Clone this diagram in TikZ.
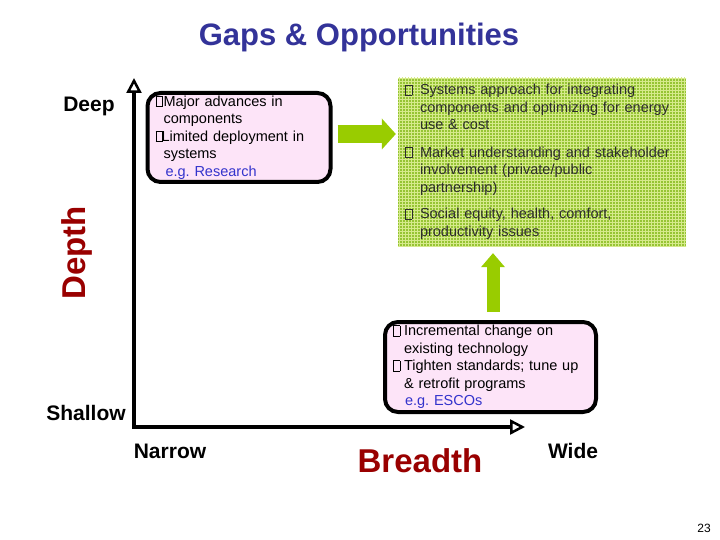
\documentclass[tikz,border=0pt]{standalone}
\usepackage{fontspec}
\setmainfont{Liberation Sans}
\usepackage{tikz}
\usetikzlibrary{arrows.meta,positioning,patterns,calc}
\definecolor{titleblue}{RGB}{51,51,153}
\definecolor{axisred}{RGB}{153,0,0}
\definecolor{boxpink}{RGB}{253,228,248}
\definecolor{egblue}{RGB}{51,51,204}
\definecolor{arrowgreen}{RGB}{153,204,0}
\definecolor{gapgreen}{RGB}{150,196,52}
\definecolor{gapgrid}{RGB}{214,234,140}
\definecolor{gaptext}{RGB}{45,45,45}
\newcommand{\sq}{{\fboxsep=0pt\fboxrule=0.6pt\fbox{\rule{0pt}{0.68em}\hspace{0.42em}}}}
\newcommand{\bl}[1]{\makebox[#1][l]{\sq}}
\newcommand{\fs}[2]{\fontsize{#1}{#2}\selectfont}

\begin{document}
\begin{tikzpicture}[
  x=1pt, y=-1pt,
  axis/.style={line width=4pt,
               {Triangle[open,length=15pt,width=15pt,line width=2.5pt]}-{Triangle[open,length=15pt,width=15pt,line width=2.5pt]}},
  lbl/.style={font=\fs{21}{24}\bfseries},
  axtitle/.style={font=\fs{33}{36}\bfseries, text=axisred},
  card/.style={draw=black, line width=4pt, rounded corners=13pt, fill=boxpink,
               align=left, inner xsep=8pt, inner ysep=0pt, font=\fs{14.5}{17.5}},
  gapbox/.style={fill=gapgreen, postaction={pattern=grid, pattern color=gapgrid},
                 align=left, inner xsep=7pt, inner ysep=0pt, text=gaptext, font=\fs{14.5}{17.5}},
  garrow/.style={draw=arrowgreen, line width=18pt, -{Triangle[length=14pt,width=31pt,line width=0pt]}},
  garrowv/.style={draw=arrowgreen, line width=13pt, -{Triangle[length=14pt,width=24pt,line width=0pt]}},
]
\useasboundingbox (0,0) rectangle (720,540);
\fill[white] (0,0) rectangle (720,540);

% ============================================================
% TITLE
% ============================================================
\node[font=\fs{31}{34}\bfseries, text=titleblue] (title) at (359,37) {Gaps \& Opportunities};

% ============================================================
% AXES
% ============================================================
\coordinate (ytip) at (134,78);
\coordinate (orig) at (134,427);
\coordinate (xtip) at (525,427);
\draw[axis] (ytip) -- (orig) -- (xtip);

\node[lbl] (deep)    at (89,106)  {Deep};
\node[lbl] (shallow) at (86,413)  {Shallow};
\node[lbl] (narrow)  at (170,451) {Narrow};
\node[lbl] (wide)    at (573,451) {Wide};
\node[axtitle, rotate=90] (depth) at (77,253) {Depth};
\node[axtitle] (breadth) at (420,461) {Breadth};

% ============================================================
% BOXES
% ============================================================
\node[card, minimum width=183pt, minimum height=89pt, text width=167pt] (rsch) at (239,137.5)
  {\bl{8pt}Major advances in\\
   \hspace*{8pt}components\\
   \bl{6pt}Limited deployment in\\
   \hspace*{8pt}systems\\
   \hspace*{10pt}\textcolor{egblue}{e.g.\ Research}};

\node[gapbox, minimum width=288pt, minimum height=168pt, text width=274pt] (gaps) at (542,162)
  {\bl{15pt}Systems approach for integrating\\
   \hspace*{15pt}components and optimizing for energy\\
   \hspace*{15pt}use \& cost\\[10pt]
   \bl{15pt}Market understanding and stakeholder\\
   \hspace*{15pt}involvement (private/public\\
   \hspace*{15pt}partnership)\\[9pt]
   \bl{15pt}Social equity, health, comfort,\\
   \hspace*{15pt}productivity issues};

\node[card, minimum width=211pt, minimum height=90pt, text width=195pt] (esco) at (490.5,367)
  {\bl{11pt}Incremental change on\\
   \hspace*{11pt}existing technology\\
   \bl{11pt}Tighten standards; tune up\\
   \hspace*{11pt}\& retrofit programs\\
   \hspace*{12pt}\textcolor{egblue}{e.g.\ ESCOs}};

% green arrows
\draw[garrow]  ($(rsch.east)+(5,-3.5)$) -- ($(rsch.east -| gaps.west)+(-2,-3.5)$);
\draw[garrowv] ($(esco.north)+(2.5,-8)$) -- ($(esco.north |- gaps.south)+(2.5,7)$);

% page number
\node[font=\fs{12}{14}] (page) at (704,528) {23};

\end{tikzpicture}
\end{document}
